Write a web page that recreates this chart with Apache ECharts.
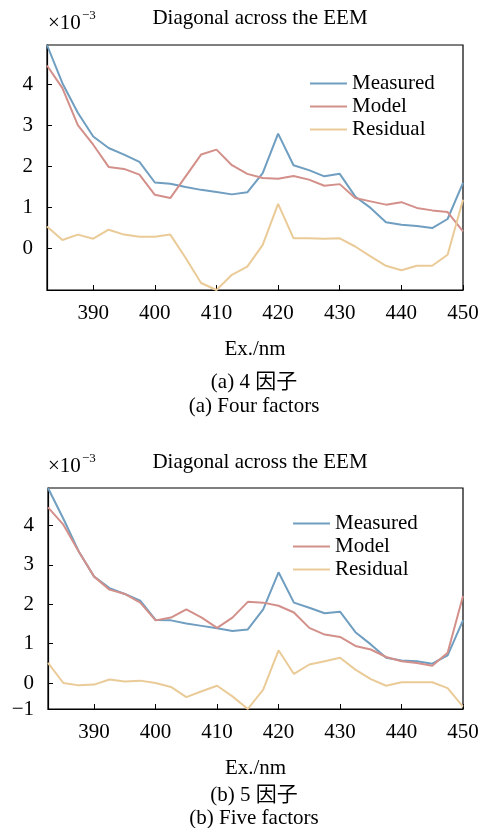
<!DOCTYPE html>
<html>
<head>
<meta charset="utf-8">
<title>Diagonal across the EEM</title>
<script src="https://cdn.jsdelivr.net/npm/echarts@6/dist/echarts.min.js"></script>
<style>
  html, body { margin: 0; padding: 0; background: #fff; }
  #chart { width: 482px; height: 828px; }
</style>
</head>
<body>
<div id="chart"></div>
<script>
// Ex. wavelength (nm) of each point on the diagonal
const wavelengths = [382.5, 385, 387.5, 390, 392.5, 395, 397.5, 400, 402.5, 405, 407.5, 410, 412.5, 415,
  417.5, 420, 422.5, 425, 427.5, 430, 432.5, 435, 437.5, 440, 442.5, 445, 447.5, 450];

// (a) 4 factors, values x10^-3
const measuredA = [4.95, 4.02, 3.3, 2.72, 2.44, 2.28, 2.1, 1.6, 1.57, 1.49, 1.42, 1.37, 1.31, 1.36,
  1.83, 2.79, 2.02, 1.9, 1.75, 1.81, 1.26, 0.98, 0.63, 0.57, 0.54, 0.49, 0.71, 1.59];
const modelA = [4.45, 3.9, 3.0, 2.52, 1.98, 1.93, 1.79, 1.3, 1.22, 1.75, 2.28, 2.4, 2.02, 1.81,
  1.71, 1.69, 1.76, 1.67, 1.52, 1.56, 1.22, 1.14, 1.06, 1.12, 0.98, 0.92, 0.88, 0.41];
const residualA = [0.53, 0.2, 0.33, 0.23, 0.45, 0.33, 0.28, 0.28, 0.33, -0.24, -0.85, -1.02, -0.65, -0.45,
  0.08, 1.08, 0.24, 0.24, 0.23, 0.24, 0.04, -0.2, -0.43, -0.54, -0.43, -0.43, -0.16, 1.18];

// (b) 5 factors, values x10^-3
const measuredB = [4.95, 4.17, 3.34, 2.7, 2.41, 2.26, 2.09, 1.6, 1.59, 1.51, 1.45, 1.39, 1.32, 1.36,
  1.87, 2.81, 2.04, 1.91, 1.77, 1.81, 1.29, 0.98, 0.64, 0.57, 0.55, 0.49, 0.7, 1.59];
const modelB = [4.46, 4.02, 3.34, 2.7, 2.37, 2.26, 2.04, 1.59, 1.66, 1.87, 1.66, 1.4, 1.66, 2.06,
  2.04, 1.96, 1.79, 1.4, 1.23, 1.17, 0.94, 0.85, 0.66, 0.55, 0.51, 0.44, 0.77, 2.21];
const residualB = [0.51, 0.0, -0.06, -0.04, 0.09, 0.04, 0.06, 0.0, -0.1, -0.36, -0.21, -0.07, -0.34, -0.66,
  -0.17, 0.83, 0.23, 0.47, 0.55, 0.64, 0.34, 0.1, -0.07, 0.02, 0.02, 0.02, -0.13, -0.6];

const xTicks = [390, 400, 410, 420, 430, 440, 450];
const yTicksA = [0, 1, 2, 3, 4];
const yTicksB = [-0.66, 0, 1, 2, 3, 4];
const seriesNames = ["Measured", "Model", "Residual"];

const colors = ["#6f9ec0", "#d3908a", "#eacb98"];
const font = "'Liberation Serif', 'Times New Roman', 'Noto Sans CJK SC', serif";

function pairs(values) {
  return wavelengths.map((x, i) => [x, values[i]]);
}

function xAxisOf(gridIndex) {
  return {
    type: "value",
    gridIndex: gridIndex,
    min: 382.5,
    max: 450,
    name: "Ex./nm",
    nameLocation: "middle",
    nameGap: 49,
    nameTextStyle: { fontFamily: font, fontSize: 21, color: "#000" },
    axisLine: { onZero: false, lineStyle: { color: "#000", width: 1.2 } },
    axisTick: { inside: true, length: 5, customValues: xTicks, lineStyle: { color: "#000" } },
    axisLabel: { customValues: xTicks, fontFamily: font, fontSize: 21, color: "#000", margin: 13 },
    splitLine: { show: false }
  };
}

function yAxisOf(gridIndex, min, labels) {
  return {
    type: "value",
    gridIndex: gridIndex,
    min: min,
    max: 4.95,
    axisLine: { onZero: false, lineStyle: { color: "#000", width: 1.2 } },
    axisTick: { inside: true, length: 5, customValues: yTicksA, lineStyle: { color: "#000" } },
    axisLabel: {
      customValues: labels,
      fontFamily: font,
      fontSize: 21,
      color: "#000",
      margin: 14,
      formatter: v => (v < -0.5 ? "\u22121" : String(v))
    },
    splitLine: { show: false }
  };
}

function lineSeries(name, values, idx) {
  return {
    name: name,
    type: "line",
    xAxisIndex: idx,
    yAxisIndex: idx,
    data: pairs(values),
    symbol: "none",
    lineStyle: { width: 2 },
    silent: true
  };
}

function legendAt(left, top) {
  return {
    data: seriesNames,
    orient: "vertical",
    left: left,
    top: top,
    icon: "rect",
    itemWidth: 37,
    itemHeight: 2,
    itemGap: 2,
    textStyle: { fontFamily: font, fontSize: 21, color: "#000" }
  };
}

function textAt(x, y, text, size, align) {
  return {
    type: "text",
    x: x,
    y: y,
    style: {
      text: text,
      font: size + "px " + font,
      fill: "#000",
      align: align || "center",
      verticalAlign: "middle"
    }
  };
}

const chart = echarts.init(document.getElementById("chart"), null, { renderer: "canvas" });

const options = {
  animation: false,
  color: colors,
  grid: [
    { left: 47, right: 19, top: 45, height: 245, show: true, borderColor: "#000", borderWidth: 1.2 },
    { left: 48, right: 19, top: 488, height: 221, show: true, borderColor: "#000", borderWidth: 1.2 }
  ],
  legend: [legendAt(305, 68), legendAt(288, 508)],
  xAxis: [xAxisOf(0), xAxisOf(1)],
  yAxis: [yAxisOf(0, -1.02, yTicksA), yAxisOf(1, -0.66, yTicksB)],
  series: [
    lineSeries("Measured", measuredA, 0),
    lineSeries("Model", modelA, 0),
    lineSeries("Residual", residualA, 0),
    lineSeries("Measured", measuredB, 1),
    lineSeries("Model", modelB, 1),
    lineSeries("Residual", residualB, 1)
  ],
  graphic: [
    textAt(260, 18, "Diagonal across the EEM", 21),
    textAt(48, 23, "\u00d710", 21, "left"),
    textAt(82, 16, "\u22123", 13, "left"),
    textAt(254, 382, "(a) 4 因子", 21),
    textAt(254, 406, "(a) Four factors", 21),
    textAt(260, 462, "Diagonal across the EEM", 21),
    textAt(48, 466, "\u00d710", 21, "left"),
    textAt(82, 459, "\u22123", 13, "left"),
    textAt(254, 795, "(b) 5 因子", 21),
    textAt(254, 818, "(b) Five factors", 21)
  ]
};

chart.setOption(options);

window.addEventListener("resize", () => {
  chart.resize();
});
</script>
</body>
</html>
